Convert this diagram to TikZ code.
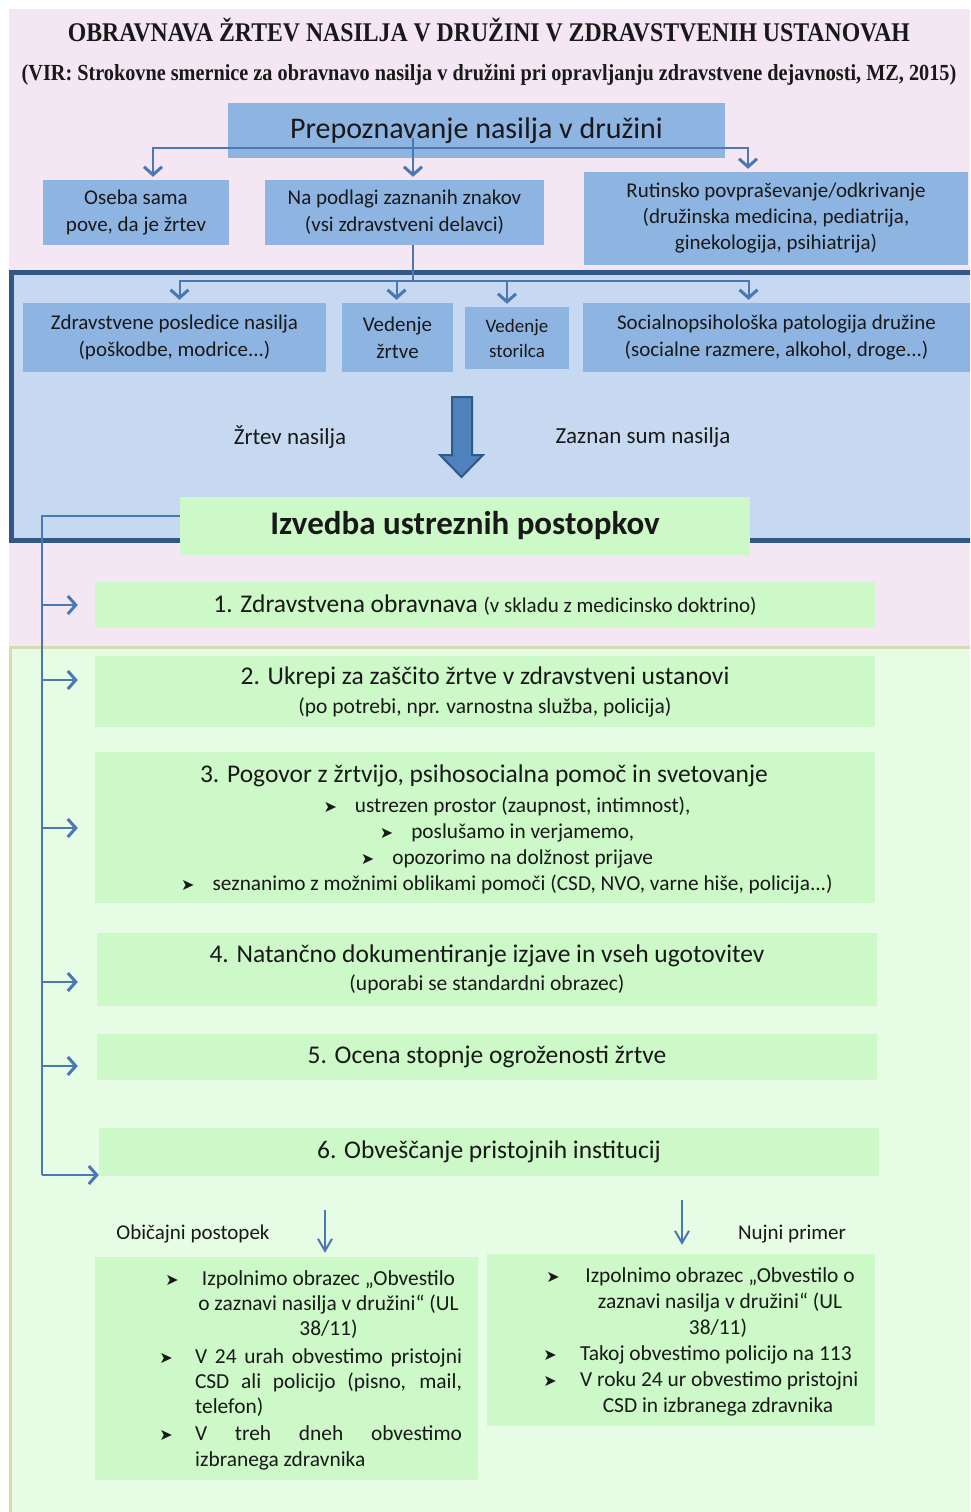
\documentclass[tikz,border=0pt]{standalone}
\usepackage{fontspec}
\setmainfont{Carlito}
\newfontfamily\titlefont{Liberation Serif}[FakeStretch=0.88]
\newfontfamily\symfont{DejaVu Sans}
\usetikzlibrary{positioning,arrows.meta,calc,backgrounds}

\definecolor{pinkbg}{RGB}{244,230,242}
\definecolor{greenbg}{RGB}{230,252,228}
\definecolor{tanline}{RGB}{214,219,178}
\definecolor{framefill}{RGB}{198,217,240}
\definecolor{frameblue}{RGB}{52,88,134}
\definecolor{boxblue}{RGB}{142,180,226}
\definecolor{stepgreen}{RGB}{204,249,199}
\definecolor{linkblue}{RGB}{74,120,180}
\definecolor{arrowfill}{RGB}{79,129,189}
\definecolor{txt}{RGB}{25,25,25}

\newcommand{\fs}[2]{\fontsize{#1}{#2}\selectfont}
\newcommand{\arrowbul}{{\symfont\fs{16}{16}➤}}

\tikzset{
  bluebox/.style={fill=boxblue, align=center, inner sep=0pt, font=\fs{21}{27}},
  stepbox/.style={fill=stepgreen, align=center, inner sep=0pt, minimum width=780},
  link/.style={draw=linkblue, line width=2pt},
  arr/.style={link, -{Straight Barb[length=8pt,width=18pt,line width=3pt]}},
  thinarr/.style={link, -{Straight Barb[length=12pt,width=14pt,line width=2pt]}},
  bodytext/.style={font=\fs{21.4}{26}, inner sep=0pt, anchor=base},
}

\begin{document}
\begin{tikzpicture}[x=1pt,y=-1pt, every node/.append style={text=txt}]
\useasboundingbox (0,0) rectangle (970,1512);
\clip (0,0) rectangle (970,1512);

% backgrounds
\fill[pinkbg] (9,9) rectangle (970,648);
\fill[greenbg] (9,648) rectangle (970,1512);
\draw[tanline, line width=3pt] (10.5,1512) |- (970,647.5);
\draw[frameblue, fill=framefill, line width=4.5pt] (11.5,272.5) rectangle (990,540.5);

% title
\node (title) at (489,30) {\titlefont\bfseries\fs{27}{27}OBRAVNAVA ŽRTEV NASILJA V DRUŽINI V ZDRAVSTVENIH USTANOVAH};
\node (source) at (489,75) {\titlefont\bfseries\fs{23}{23}(VIR: Strokovne smernice za obravnavo nasilja v družini pri opravljanju zdravstvene dejavnosti, MZ, 2015)};

% recognition
\node[bluebox, font=\fs{30}{30}, minimum width=497, minimum height=55] (prep) at (476.5,130.5) {Prepoznavanje nasilja v družini};
\node[bluebox, minimum width=186, minimum height=65] (oseba) at (136,212.5) {Oseba sama\\pove, da je žrtev};
\node[bluebox, minimum width=279, minimum height=65] (znaki) at (404.5,212.5) {Na podlagi zaznanih znakov\\(vsi zdravstveni delavci)};
\node[bluebox, font=\fs{21}{26}, minimum width=384, minimum height=93] (rutina) at (776,218.5) {Rutinsko povpraševanje/odkrivanje\\(družinska medicina, pediatrija,\\ginekologija, psihiatrija)};

\coordinate (j1) at (413,148);
\coordinate (j2) at (413,281);
\draw[link] ([yshift=10pt]j1) -- (j1);
\draw[arr, shorten >=3pt] (j1) -| ([xshift=17pt]oseba.north);
\draw[arr, shorten >=3pt] (j1) -- (j1 |- znaki.north);
\draw[arr, shorten >=3pt] (j1) -| ([xshift=-28pt]rutina.north);

% signs
\node[bluebox, minimum width=303, minimum height=69] (posl) at (174.5,337.5) {Zdravstvene posledice nasilja\\(poškodbe, modrice...)};
\node[bluebox, minimum width=111, minimum height=69] (vzrt) at (397.5,337.5) {Vedenje\\žrtve};
\node[bluebox, font=\fs{19}{25}, minimum width=104, minimum height=62] (vsto) at (517,338) {Vedenje\\storilca};
\node[bluebox, minimum width=387, minimum height=69] (soc) at (776.5,337.5) {Socialnopsihološka patologija družine\\(socialne razmere, alkohol, droge...)};

\draw[link] (j1 |- znaki.south) -- (j2);
\draw[arr, shorten >=3pt] (j2) -| ([xshift=5pt]posl.north);
\draw[arr, shorten >=3pt] (j2) -| ([xshift=-1pt]vzrt.north);
\draw[arr, shorten >=3pt] (j2) -| ([xshift=-10pt]vsto.north);
\draw[arr, shorten >=3pt] (j2) -| ([xshift=-28pt]soc.north);

\draw[frameblue, fill=arrowfill, line width=2pt] (452,397) -- (472,397) -- (472,455) -- (483,455) -- (461.5,477) -- (440,455) -- (452,455) -- cycle;
\node[font=\fs{23}{23}] (zrtev) at (290,437) {Žrtev nasilja};
\node[font=\fs{23}{23}] (sum) at (643,437) {Zaznan sum nasilja};

% procedures
\node[fill=stepgreen, inner sep=0pt, minimum width=570, minimum height=58, font=\bfseries\fs{33}{33}] (izv) at (465,526) {Izvedba ustreznih postopkov};

\node[stepbox, minimum height=46, font=\fs{25.5}{25.5}] (s1) at (485,605) {1. Zdravstvena obravnava {\fs{21}{21}(v skladu z medicinsko doktrino)}};
\node[stepbox, minimum height=71, font=\fs{25.5}{29}] (s2) at (485,691.5) {2. Ukrepi za zaščito žrtve v zdravstveni ustanovi\\{\fs{21.5}{21.5}(po potrebi, npr. varnostna služba, policija)}};
\node[stepbox, minimum height=151] (s3) at (485,827.5) {};
\node[font=\fs{25.5}{25.5}] (s3t) at (484,776) {3. Pogovor z žrtvijo, psihosocialna pomoč in svetovanje};
\node[font=\fs{21.3}{26}, align=center] (s3b) at (507,846) {\arrowbul\hspace{18pt}ustrezen prostor (zaupnost, intimnost),\\
  \arrowbul\hspace{18pt}poslušamo in verjamemo,\\
  \arrowbul\hspace{18pt}opozorimo na dolžnost prijave\\
  \arrowbul\hspace{18pt}seznanimo z možnimi oblikami pomoči (CSD, NVO, varne hiše, policija...)};
\node[stepbox, minimum height=73, font=\fs{25.5}{28}] (s4) at (487,969.5) {4. Natančno dokumentiranje izjave in vseh ugotovitev\\{\fs{21.5}{21.5}(uporabi se standardni obrazec)}};
\node[stepbox, minimum height=46, font=\fs{25.5}{25.5}] (s5) at (487,1057) {5. Ocena stopnje ogroženosti žrtve};
\node[stepbox, minimum height=48, font=\fs{25.5}{25.5}] (s6) at (489,1152) {6. Obveščanje pristojnih institucij};

\coordinate (c1) at (42,605);
\coordinate (c2) at (42,680);
\coordinate (c3) at (42,828);
\coordinate (c4) at (42,982);
\coordinate (c5) at (42,1066);
\coordinate (c6) at (42,1175);
\draw[link] ([yshift=10pt]izv.west) -| (c6);
\draw[arr, shorten >=17pt] (c1) -- (c1 -| s1.west);
\draw[arr, shorten >=17pt] (c2) -- (c2 -| s2.west);
\draw[arr, shorten >=17pt] (c3) -- (c3 -| s3.west);
\draw[arr, shorten >=19pt] (c4) -- (c4 -| s4.west);
\draw[arr, shorten >=19pt] (c5) -- (c5 -| s5.west);
\draw[arr] (c6) -- (c6 -| s6.west);

% notification
\node[fill=stepgreen, minimum width=383, minimum height=223, inner sep=0pt] (redni) at (286.5,1368.5) {};
\node[fill=stepgreen, minimum width=388, minimum height=172, inner sep=0pt] (nujni) at (681,1340) {};
\node[font=\fs{21}{21}] (lredni) at (193,1234) {Običajni postopek};
\node[font=\fs{21}{21}] (lnujni) at (792,1234) {Nujni primer};
\coordinate (oa) at (325,1210);
\coordinate (ob) at (682,1200);
\draw[thinarr, shorten >=4pt] (oa) -- (oa |- redni.north);
\draw[thinarr, shorten >=9pt] (ob) -- (ob |- nujni.north);

\node[bodytext] (rb1) at (172,1285) {\arrowbul};
\node[bodytext] (r1) at (328.5,1285) {Izpolnimo obrazec „Obvestilo};
\node[bodytext] (r2) at (328.5,1310) {o zaznavi nasilja v družini“ (UL};
\node[bodytext] (r3) at (328.5,1335) {38/11)};
\node[bodytext] (rb2) at (166,1363) {\arrowbul};
\node[bodytext] (r4) at (328.5,1363) {\makebox[267pt][s]{V 24 urah obvestimo pristojni}};
\node[bodytext] (r5) at (328.5,1388) {\makebox[267pt][s]{CSD ali policijo (pisno, mail,}};
\node[bodytext, anchor=base west] (r6) at (195,1413) {telefon)};
\node[bodytext] (rb3) at (166,1440) {\arrowbul};
\node[bodytext] (r7) at (328.5,1440) {\makebox[267pt][s]{V treh dneh obvestimo}};
\node[bodytext, anchor=base west] (r8) at (195,1466) {izbranega zdravnika};

\node[bodytext] (nb1) at (553,1282) {\arrowbul};
\node[bodytext] (n1) at (720,1282) {Izpolnimo obrazec „Obvestilo o};
\node[bodytext] (n2) at (720,1308) {zaznavi nasilja v družini“ (UL};
\node[bodytext] (n3) at (718,1334) {38/11)};
\node[bodytext] (nb2) at (550,1360) {\arrowbul};
\node[bodytext, anchor=base west] (n4) at (580,1360) {Takoj obvestimo policijo na 113};
\node[bodytext] (nb3) at (550,1386) {\arrowbul};
\node[bodytext, anchor=base west] (n5) at (580,1386) {V roku 24 ur obvestimo pristojni};
\node[bodytext] (n6) at (718,1412) {CSD in izbranega zdravnika};
\end{tikzpicture}
\end{document}
